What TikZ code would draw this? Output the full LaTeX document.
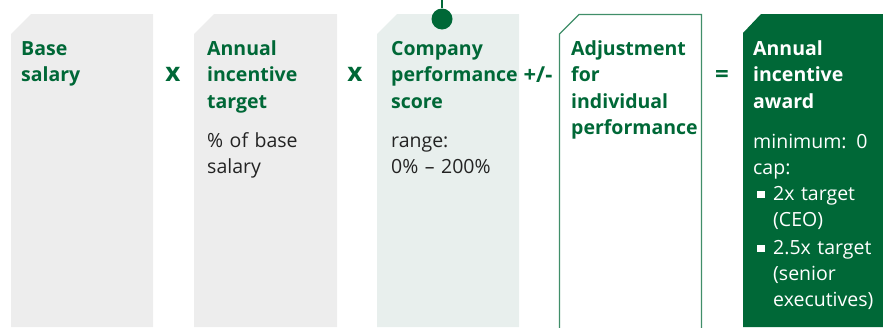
\documentclass[tikz,border=0pt]{standalone}
\usepackage{fontspec}
\setmainfont{Open Sans}
\definecolor{dkgreen}{RGB}{0,104,55}
\definecolor{paneA}{RGB}{237,237,237}
\definecolor{paneB}{RGB}{232,239,237}
\definecolor{bodytext}{RGB}{35,35,35}
\newcommand\sqbul{\makebox[20pt][l]{\hspace*{4pt}\rule[2pt]{7.5pt}{7.5pt}}}
\tikzset{
  title/.style={anchor=base west, inner sep=0pt, align=left, text width=135pt,
    font=\bfseries\fontsize{19.5}{26.5}\selectfont, text=dkgreen},
  body/.style={anchor=base west, inner sep=0pt, align=left, text width=135pt,
    font=\fontsize{19.5}{26}\selectfont, text=bodytext},
  op/.style={inner sep=0pt, font=\bfseries\fontsize{#1}{28}\selectfont, text=dkgreen},
  op/.default=26,
}
\begin{document}
\begin{tikzpicture}[x=1pt,y=-1pt]
\useasboundingbox (0,0) rectangle (883,327);
% panels with clipped top-left corners
\fill[paneA] (11,327) -- (11,34) -- (31,14) -- (153,14) -- (153,327) -- cycle;
\fill[paneA] (194,327) -- (194,34) -- (214,14) -- (337,14) -- (337,327) -- cycle;
\fill[paneB] (377,327) -- (377,34) -- (397,14) -- (519,14) -- (519,327) -- cycle;
\draw[dkgreen!75!white, line width=1.1pt] (559.5,328) -- (559.5,34) -- (579,14.5) -- (701.5,14.5) -- (701.5,328);
\fill[dkgreen] (743,327) -- (743,33) -- (761,14) -- (883,14) -- (883,327) -- cycle;
% pin on the performance panel
\node[circle, fill=dkgreen, minimum size=21pt, inner sep=0pt] (pin) at (442,19) {};
\coordinate (pintop) at (442,0);
\draw[dkgreen, line width=2pt] (pintop) -- (pin);
% titles
\node[title] (t1) at (21,55) {Base\\salary};
\node[title] (t2) at (207,55) {Annual\\incentive\\target};
\node[title] (t3) at (391,55) {Company\\performance\\score};
\node[title] (t4) at (571,55) {Adjustment\\for\\individual\\performance};
\node[title, text=white] (t5) at (753,55) {Annual\\incentive\\award};
% details
\node[body] (d2) at (207,147) {\% of base\\salary};
\node[body] (d3) at (391,147) {range:\\0\% -- 200\%};
\node[body, text=white] (d5) at (753,148) {minimum: 0\\cap:\\
  \sqbul 2x target\\\hspace*{20pt}(CEO)\\[2pt]
  \sqbul 2.5x target\\\hspace*{20pt}(senior\\\hspace*{20pt}executives)};
% operators
\node[op] (o1) at (173,74) {x};
\node[op] (o2) at (355,74) {x};
\node[op=22] (o3) at (538,75) {+/-};
\node[op=24] (o4) at (722,76) {=};
\end{tikzpicture}
\end{document}
